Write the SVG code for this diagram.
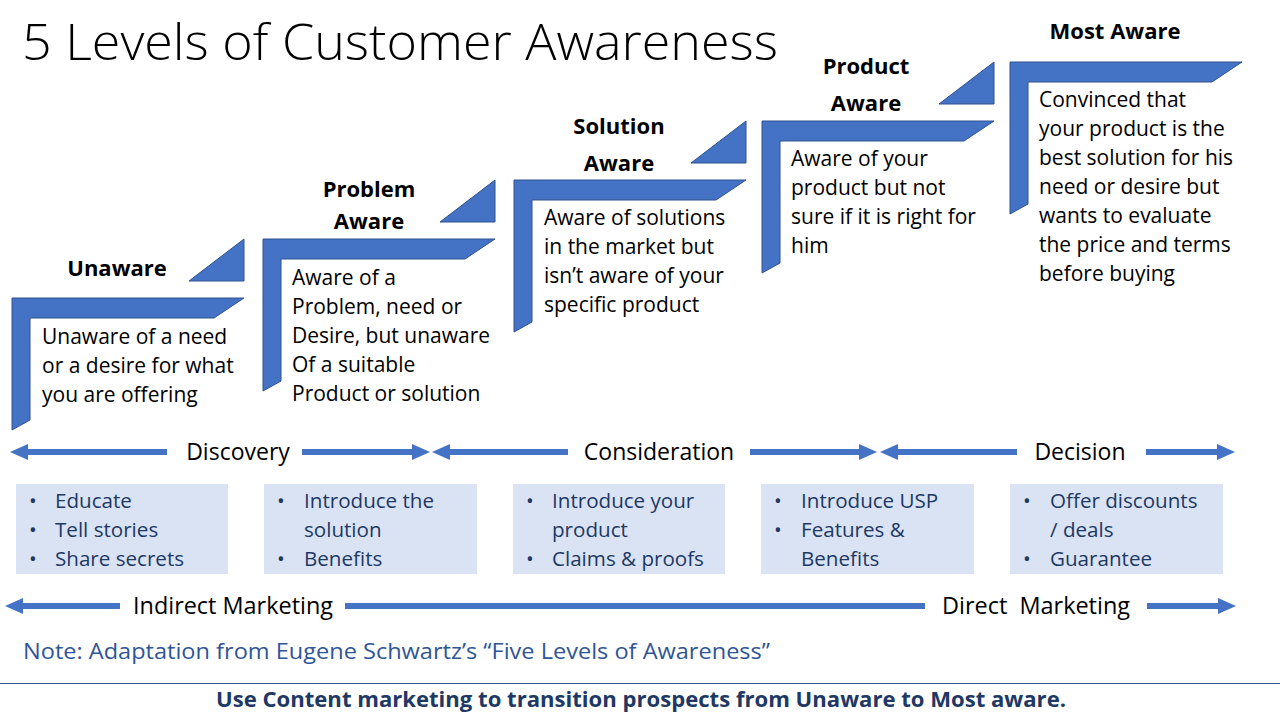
<svg xmlns="http://www.w3.org/2000/svg" width="1280" height="720" viewBox="0 0 1280 720">
<defs>
<marker id="ah" markerUnits="userSpaceOnUse" markerWidth="18" markerHeight="16" viewBox="0 -8 18 16" refX="0" refY="0" orient="auto">
<path d="M0,-8 L18,0 L0,8 Z" fill="#4472C4"/>
</marker>
<style>
.step{fill:#4472C4;stroke:#2F528F;stroke-width:1}
.head{font-family:"Open Sans","Liberation Sans",sans-serif;font-weight:700;font-size:22px;fill:#000;text-anchor:middle}
.body{font-family:"Open Sans","Liberation Sans",sans-serif;font-size:21px;fill:#000}
.stage{font-family:"Open Sans","Liberation Sans",sans-serif;font-size:23px;fill:#000;text-anchor:middle}
.box{fill:#DAE3F3}
.li{font-family:"Open Sans","Liberation Sans",sans-serif;font-size:20.6px;fill:#203864}
.arr{stroke:#4472C4;stroke-width:6;fill:none}
</style>
</defs>
<rect width="1280" height="720" fill="#fff"/>
<text x="22" y="60" font-family="'Open Sans','Liberation Sans',sans-serif" font-weight="300" font-size="50" textLength="756" lengthAdjust="spacingAndGlyphs" fill="#000">5 Levels of Customer Awareness</text>

<g id="unaware">
<path class="step" d="M12,298 H244 L214,318 H30 V420 L12,430 Z"/>
<polygon class="step" points="189,281 244,239 244,281"/>
<text class="head" x="117" y="276">Unaware</text>
<text class="body" x="42" y="344">Unaware of a need</text>
<text class="body" x="42" y="373">or a desire for what</text>
<text class="body" x="42" y="402">you are offering</text>
</g>

<g id="problem-aware">
<path class="step" d="M263,239 H495 L465,259 H281 V381 L263,391 Z"/>
<polygon class="step" points="440,222 495,180 495,222"/>
<text class="head" x="369" y="197">Problem</text>
<text class="head" x="369" y="229">Aware</text>
<text class="body" x="292" y="285">Aware of a</text>
<text class="body" x="292" y="314">Problem, need or</text>
<text class="body" x="292" y="343">Desire, but unaware</text>
<text class="body" x="292" y="372">Of a suitable</text>
<text class="body" x="292" y="401">Product or solution</text>
</g>

<g id="solution-aware">
<path class="step" d="M514,180 H746 L716,200 H532 V322 L514,332 Z"/>
<polygon class="step" points="691,163 746,121 746,163"/>
<text class="head" x="619" y="134">Solution</text>
<text class="head" x="619" y="171">Aware</text>
<text class="body" x="544" y="225">Aware of solutions</text>
<text class="body" x="544" y="254">in the market but</text>
<text class="body" x="544" y="283">isn’t aware of your</text>
<text class="body" x="544" y="312">specific product</text>
</g>

<g id="product-aware">
<path class="step" d="M762,121 H994 L964,141 H780 V263 L762,273 Z"/>
<polygon class="step" points="939,104 994,62 994,104"/>
<text class="head" x="866" y="74">Product</text>
<text class="head" x="866" y="111">Aware</text>
<text class="body" x="791" y="166">Aware of your</text>
<text class="body" x="791" y="195">product but not</text>
<text class="body" x="791" y="224">sure if it is right for</text>
<text class="body" x="791" y="253">him</text>
</g>

<g id="most-aware">
<path class="step" d="M1010,62 H1242 L1212,82 H1028 V204 L1010,214 Z"/>
<text class="head" x="1115" y="39">Most Aware</text>
<text class="body" x="1039" y="107">Convinced that</text>
<text class="body" x="1039" y="136">your product is the</text>
<text class="body" x="1039" y="165">best solution for his</text>
<text class="body" x="1039" y="194">need or desire but</text>
<text class="body" x="1039" y="223">wants to evaluate</text>
<text class="body" x="1039" y="252">the price and terms</text>
<text class="body" x="1039" y="281">before buying</text>
</g>

<g id="connectors">
<line class="arr" x1="167" y1="452" x2="28" y2="452" marker-end="url(#ah)"/>
<line class="arr" x1="302" y1="452" x2="412" y2="452" marker-end="url(#ah)"/>
<line class="arr" x1="568" y1="452" x2="450" y2="452" marker-end="url(#ah)"/>
<line class="arr" x1="750" y1="452" x2="859" y2="452" marker-end="url(#ah)"/>
<line class="arr" x1="1017" y1="452" x2="898" y2="452" marker-end="url(#ah)"/>
<line class="arr" x1="1146" y1="452" x2="1217" y2="452" marker-end="url(#ah)"/>
<line class="arr" x1="120" y1="606" x2="23" y2="606" marker-end="url(#ah)"/>
<line class="arr" x1="345" y1="606" x2="925" y2="606"/>
<line class="arr" x1="1147" y1="606" x2="1218" y2="606" marker-end="url(#ah)"/>
</g>

<g id="stage-discovery"><text class="stage" x="238" y="460">Discovery</text></g>
<g id="stage-consideration"><text class="stage" x="659" y="460">Consideration</text></g>
<g id="stage-decision"><text class="stage" x="1080" y="460">Decision</text></g>

<g id="box-1">
<rect class="box" x="16" y="484" width="212" height="90"/>
<text class="li" x="29" y="508">•</text><text class="li" x="55" y="508">Educate</text>
<text class="li" x="29" y="537">•</text><text class="li" x="55" y="537">Tell stories</text>
<text class="li" x="29" y="566">•</text><text class="li" x="55" y="566">Share secrets</text>
</g>
<g id="box-2">
<rect class="box" x="264" y="484" width="213" height="90"/>
<text class="li" x="277" y="508">•</text><text class="li" x="304" y="508">Introduce the</text>
<text class="li" x="304" y="537">solution</text>
<text class="li" x="277" y="566">•</text><text class="li" x="304" y="566">Benefits</text>
</g>
<g id="box-3">
<rect class="box" x="513" y="484" width="212" height="90"/>
<text class="li" x="526" y="508">•</text><text class="li" x="552" y="508">Introduce your</text>
<text class="li" x="552" y="537">product</text>
<text class="li" x="526" y="566">•</text><text class="li" x="552" y="566">Claims &amp; proofs</text>
</g>
<g id="box-4">
<rect class="box" x="761" y="484" width="213" height="90"/>
<text class="li" x="774" y="508">•</text><text class="li" x="801" y="508">Introduce USP</text>
<text class="li" x="774" y="537">•</text><text class="li" x="801" y="537">Features &amp;</text>
<text class="li" x="801" y="566">Benefits</text>
</g>
<g id="box-5">
<rect class="box" x="1010" y="484" width="213" height="90"/>
<text class="li" x="1023" y="508">•</text><text class="li" x="1050" y="508">Offer discounts</text>
<text class="li" x="1050" y="537">/ deals</text>
<text class="li" x="1023" y="566">•</text><text class="li" x="1050" y="566">Guarantee</text>
</g>

<g id="marketing-labels">
<text class="stage" x="233" y="614" textLength="200" lengthAdjust="spacingAndGlyphs">Indirect Marketing</text>
<text class="stage" x="1036" y="614" xml:space="preserve" textLength="188" lengthAdjust="spacingAndGlyphs">Direct  Marketing</text>
</g>

<text x="23" y="659" font-family="'Open Sans','Liberation Sans',sans-serif" font-size="22" textLength="747" lengthAdjust="spacingAndGlyphs" fill="#2F5597">Note: Adaptation from Eugene Schwartz’s “Five Levels of Awareness”</text>
<line x1="0" y1="683.5" x2="1280" y2="683.5" stroke="#2F5597" stroke-width="1"/>
<text x="641" y="707" text-anchor="middle" font-family="'Open Sans','Liberation Sans',sans-serif" font-weight="700" font-size="22" textLength="850" lengthAdjust="spacingAndGlyphs" fill="#203864">Use Content marketing to transition prospects from Unaware to Most aware.</text>
</svg>
